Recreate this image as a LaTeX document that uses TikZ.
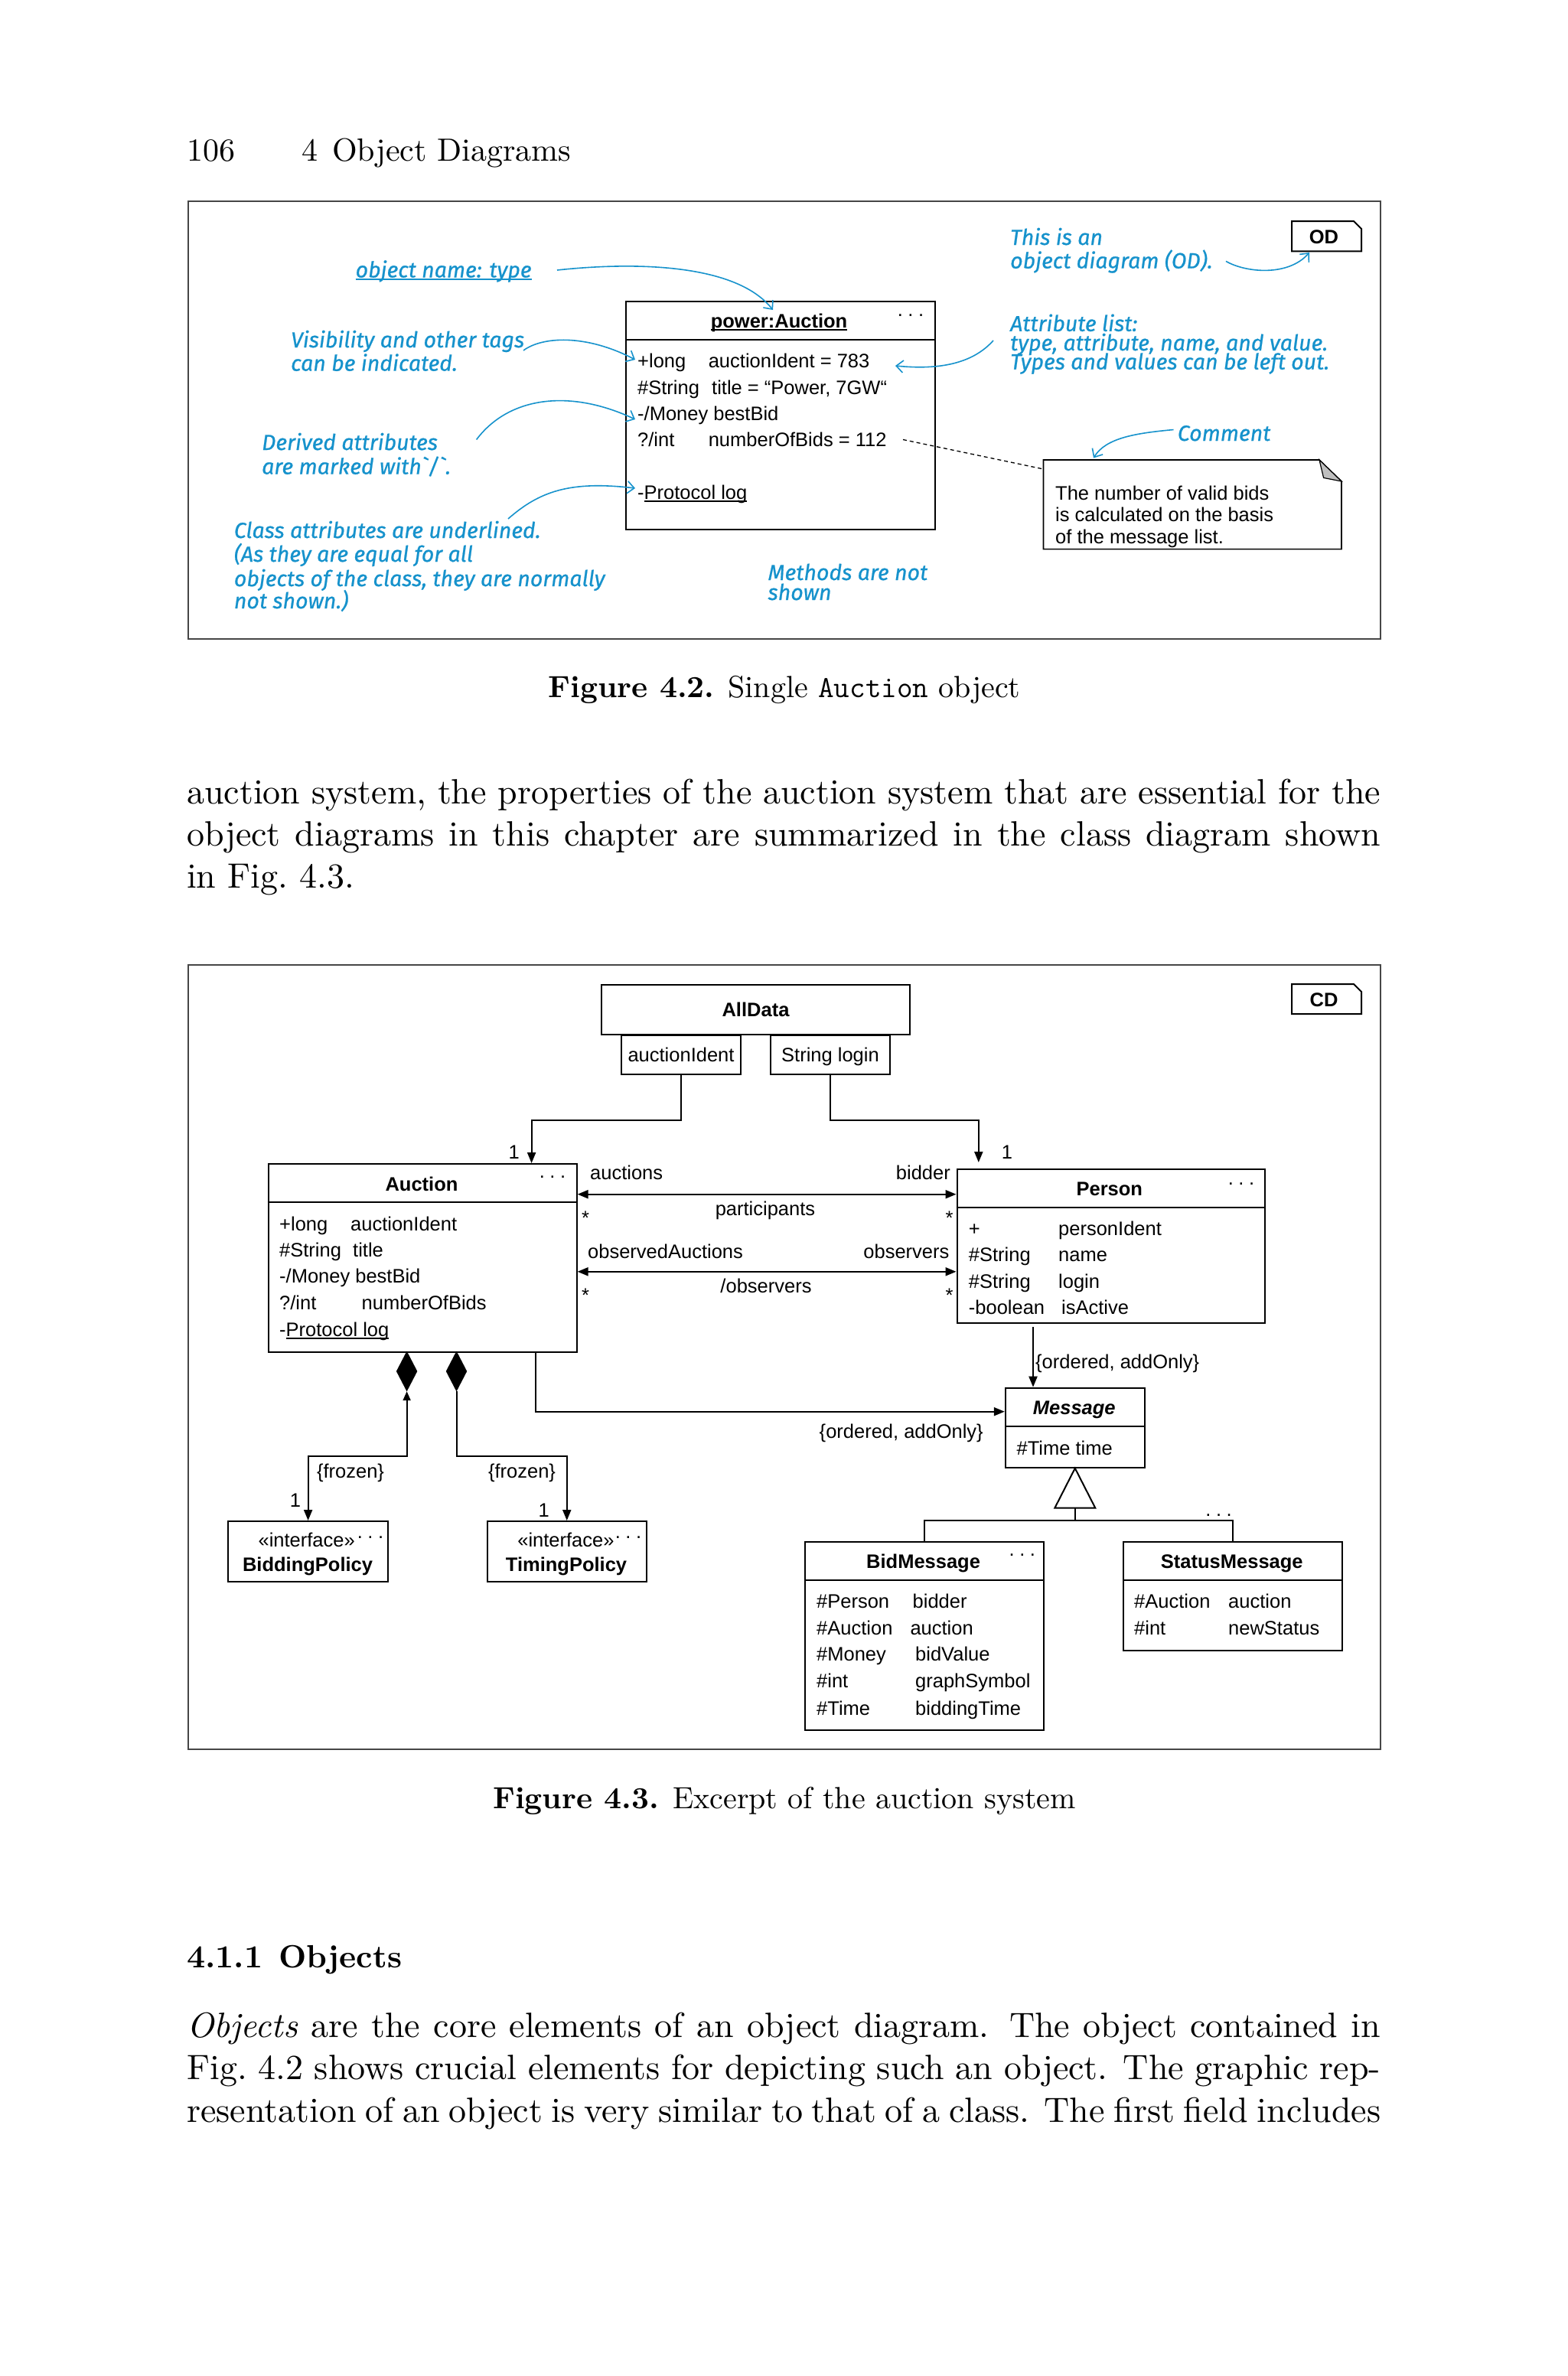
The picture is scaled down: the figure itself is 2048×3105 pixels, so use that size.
\documentclass[tikz,border=0pt]{standalone}
\usepackage{fontspec}
\setmainfont{lmroman10-regular.otf}[BoldFont=lmroman10-bold.otf, ItalicFont=lmroman10-italic.otf, BoldItalicFont=lmroman10-bolditalic.otf]
\newfontfamily\umlfont{Liberation Sans}
\newfontfamily\annfont{Fira Sans}[FakeBold=0.7]
\usetikzlibrary{arrows.meta,shapes.geometric,calc}
\definecolor{annblue}{RGB}{22,146,204}
\definecolor{framegray}{RGB}{70,70,70}
\newsavebox\ulbox
\newcommand\ulx[1]{\sbox\ulbox{#1}\rlap{\rule[-3.5pt]{\wd\ulbox}{1.6pt}}\usebox\ulbox}
\newcommand\tdots{.\hspace{6.5pt}.\hspace{6.5pt}.}
\tikzset{
  u/.style={font=\umlfont\fontsize{25.5}{28}\selectfont, inner sep=0pt, text height=18.4pt, text depth=0pt},
  uw/.style={u, anchor=west},
  ue/.style={u, anchor=east},
  ub/.style={u, font=\umlfont\bfseries\fontsize{25.5}{28}\selectfont},
  um/.style={font=\umlfont\fontsize{25.5}{28.2}\selectfont, inner sep=0pt, align=left, anchor=north west},
  udots/.style={u, anchor=base},
  umlbox/.style={draw, line width=2pt, inner sep=0pt, anchor=north west},
  ln/.style={line width=2pt},
  frm/.style={draw=framegray, line width=2pt},
  arr/.style={line width=2pt, -{Triangle[length=14pt,width=11pt]}},
  dbl/.style={line width=2pt, {Triangle[length=14pt,width=11pt]}-{Triangle[length=14pt,width=11pt]}},
  ann/.style={font=\annfont\itshape\fontsize{28.5}{32}\selectfont, text=annblue, inner sep=0pt, anchor=west, text height=20pt, text depth=0pt},
  annarr/.style={draw=annblue, line width=1.6pt, -{Straight Barb[length=9pt,width=16pt]}},
  hdrtext/.style={font=\fontsize{42}{52}\selectfont, anchor=base west, inner sep=0pt},
  bodytext/.style={font=\fontsize{46}{55}\selectfont, anchor=base west, inner sep=0pt},
  figcap/.style={font=\fontsize{40}{50}\selectfont, anchor=base, inner sep=0pt},
  sectext/.style={font=\bfseries\fontsize{42}{52}\selectfont, anchor=base west, inner sep=0pt},
}
\begin{document}
\begin{tikzpicture}[x=1pt,y=-1pt]
\fill[white] (0,0) rectangle (2048,3105);
\useasboundingbox (0,0) rectangle (2048,3105);

% ---------- header ----------
\node[hdrtext] (pgno) at (244,210) {106};
\node[hdrtext] (chap) at (394,210) {4\hspace{0.45em}Object Diagrams};

% ---------- Figure 4.2 ----------
\draw[frm] (246,263) rectangle (1804,835);
\draw[ln] (1688,289) -- (1769,289) -- (1779,299) -- (1779,328.4) -- (1688,328.4) -- cycle;
\node[ub] (odt) at (1730,309) {OD};

\node[umlbox, minimum width=404, minimum height=298.5] (power) at (817,392.5) {};
\draw[ln] (power.west |- 0,444) -- (power.east |- 0,444);
\node[ub] (powt) at (1018,419) {\ulx{power:Auction}};
\node[udots] (powd) at (1190,413) {\tdots};
\node[uw] (pa1) at (833,471.6) {+long};
\node[uw] (pa1v) at (925.6,471.6) {auctionIdent = 783};
\node[uw] (pa2) at (833,506) {\#String};
\node[uw] (pa2v) at (930,506) {title = “Power, 7GW“};
\node[uw] (pa3) at (833,540) {-/Money bestBid};
\node[uw] (pa4) at (833,574.5) {?/int};
\node[uw] (pa4v) at (925.6,574.5) {numberOfBids = 112};
\node[uw] (pa5) at (833,643) {-\ulx{Protocol log}};

% note
\draw[line width=1.6pt] (1363.5,601) -- (1724,601) -- (1753,629) -- (1753,717.6) -- (1363.5,717.6) -- cycle;
\filldraw[fill=black!25, line width=1.2pt] (1724,601) -- (1753,629) -- (1729.6,624.4) -- cycle;
\node[um] (notet) at (1379,635) {The number of valid bids\\is calculated on the basis\\of the message list.};
\coordinate (nbEnd) at (1180,574.5);
\coordinate (noteIn) at (1363.5,613);
\draw[line width=1.3pt, dash pattern=on 5pt off 4pt] (nbEnd) -- (noteIn);

% annotations
\node[ann] (an1) at (464.5,352.5) {\ulx{object name: type}};
\node[ann] (an2) at (380,444) {Visibility and other tags};
\node[ann] (an2b) at (380,474.6) {can be indicated.};
\node[ann] (an3) at (342,578) {Derived attributes};
\node[ann] (an3b) at (342,609.6) {are marked with\textasciigrave/\textasciigrave.};
\node[ann] (an4) at (305.7,693) {Class attributes are underlined.};
\node[ann] (an4b) at (305.7,724) {(As they are equal for all};
\node[ann] (an4c) at (305.7,756) {objects of the class, they are normally};
\node[ann] (an4d) at (305.7,785) {not shown.)};
\node[ann] (an5) at (1003.4,748) {Methods are not};
\node[ann] (an5b) at (1003.4,774) {shown};
\node[ann] (an6) at (1320,310) {This is an};
\node[ann] (an6b) at (1320,340.6) {object diagram (OD).};
\node[ann] (an7) at (1320,422.8) {Attribute list:};
\node[ann] (an7b) at (1320,448) {type, attribute, name, and value.};
\node[ann] (an7c) at (1320,472.7) {Types and values can be left out.};
\node[ann] (an8) at (1538.7,566) {Comment};

\coordinate (s1) at (728,353);   \coordinate (e1) at (1010,405);
\coordinate (s2) at (684,458);   \coordinate (e2) at (830,470);
\coordinate (s3) at (622.6,574.5); \coordinate (e3) at (830,548);
\coordinate (s4) at (664,678);   \coordinate (e4) at (830,638);
\coordinate (s6) at (1602,341.4); \coordinate (e6) at (1711,330);
\coordinate (s7) at (1298,445);  \coordinate (e7) at (1170,478);
\coordinate (s8) at (1533.5,561.5); \coordinate (e8) at (1429,598.5);
\draw[annarr] (s1) .. controls (820,343) and (960,342) .. (e1);
\draw[annarr] (s2) .. controls (708,440) and (765,436) .. (e2);
\draw[annarr] (s3) .. controls (665,518) and (745,508) .. (e3);
\draw[annarr] (s4) .. controls (705,642) and (745,628) .. (e4);
\draw[annarr] (s6) .. controls (1627,356) and (1683,362) .. (e6);
\draw[annarr] (s7) .. controls (1272,474) and (1230,484) .. (e7);
\draw[annarr] (s8) .. controls (1485,566) and (1445,572) .. (e8);

\node[figcap] (cap1) at (1025,911) {\textbf{Figure 4.2.} Single \texttt{Auction} object};

% ---------- body ----------
\node[bodytext] (b1) at (244,1050) {\makebox[1560pt][s]{auction system, the properties of the auction system that are essential for the}};
\node[bodytext] (b2) at (244,1105) {\makebox[1560pt][s]{object diagrams in this chapter are summarized in the class diagram shown}};
\node[bodytext] (b3) at (244,1160) {in Fig.\ 4.3.};

% ---------- Figure 4.3 ----------
\draw[frm] (246,1261) rectangle (1804,2286);
\draw[ln] (1688,1286) -- (1769,1286) -- (1779,1296) -- (1779,1325) -- (1688,1325) -- cycle;
\node[ub] (cdt) at (1730,1306) {CD};

\node[umlbox, ub, minimum width=403, minimum height=65] (alldata) at (785,1286) {AllData};
\node[umlbox, u, minimum width=156, minimum height=51] (qa) at (811,1352) {auctionIdent};
\node[umlbox, u, minimum width=156, minimum height=51] (ql) at (1006,1352) {String login};

% Auction
\node[umlbox, minimum width=403, minimum height=246] (auction) at (349.6,1520) {};
\draw[ln] (auction.west |- 0,1571.4) -- (auction.east |- 0,1571.4);
\node[ub] (auctiont) at (551,1546.8) {Auction};
\node[udots] (auctiond) at (722,1539) {\tdots};
\node[uw] (aa1) at (365,1599) {+long};
\node[uw] (aa1v) at (458,1599) {auctionIdent};
\node[uw] (aa2) at (365,1633) {\#String};
\node[uw] (aa2v) at (461,1633) {title};
\node[uw] (aa3) at (365,1667) {-/Money bestBid};
\node[uw] (aa4) at (365,1702) {?/int};
\node[uw] (aa4v) at (472.5,1702) {numberOfBids};
\node[uw] (aa5) at (365,1737) {-\ulx{Protocol log}};

% Person
\node[umlbox, minimum width=402.5, minimum height=201] (person) at (1249.5,1527) {};
\draw[ln] (person.west |- 0,1578) -- (person.east |- 0,1578);
\node[ub] (persont) at (1449.8,1553) {Person};
\node[udots] (persond) at (1622,1548) {\tdots};
\node[uw] (pe1) at (1265.7,1605.7) {+};
\node[uw] (pe1v) at (1383,1605.7) {personIdent};
\node[uw] (pe2) at (1265.7,1639.6) {\#String};
\node[uw] (pe2v) at (1383,1639.6) {name};
\node[uw] (pe3) at (1265.7,1674) {\#String};
\node[uw] (pe3v) at (1383,1674) {login};
\node[uw] (pe4) at (1265.7,1708) {-boolean};
\node[uw] (pe4v) at (1387,1708) {isActive};

% qualified associations
\coordinate (aTop) at (694.6,1520);
\coordinate (pTop) at (1278.8,1519);
\draw[arr] (qa.south) -- ++(0,59) -| (aTop);
\draw[arr] (ql.south) -- ++(0,59) -| (pTop);
\node[u] (m1) at (671.7,1505.7) {1};
\node[u] (m2) at (1316,1505.7) {1};

% associations Auction -- Person
\draw[dbl] (auction.east |- 0,1560.7) -- (person.west |- 0,1560.7);
\draw[dbl] (auction.east |- 0,1661.8) -- (person.west |- 0,1661.8);
\node[uw] (l1) at (771,1532) {auctions};
\node[ue] (l2) at (1242,1532) {bidder};
\node[u] (l3) at (1000,1579) {participants};
\node[u] (s1a) at (765,1591) {*};
\node[u] (s1b) at (1240.6,1591) {*};
\node[uw] (l4) at (768,1635.7) {observedAuctions};
\node[ue] (l5) at (1240.6,1635.7) {observers};
\node[u] (l6) at (1001,1680) {/observers};
\node[u] (s2a) at (765,1692) {*};
\node[u] (s2b) at (1240.6,1692) {*};

% compositions
\node[diamond, draw, fill, minimum width=27, minimum height=52, inner sep=0pt] (d1) at (531.6,1792) {};
\node[diamond, draw, fill, minimum width=27, minimum height=52, inner sep=0pt] (d2) at (596.5,1792) {};
\node[umlbox, minimum width=208.4, minimum height=78.7] (bp) at (297.4,1987) {};
\node[umlbox, minimum width=208.5, minimum height=78.7] (tp) at (635.5,1987) {};
\draw[line width=2pt, {Triangle[length=12pt,width=10pt]}-{Triangle[length=14pt,width=11pt]}] (d1.south) -- ++(0,84.4) -| (bp.north);
\draw[arr] (d2.south) -- ++(0,84.4) -| (tp.north);
\node[u] (fz1) at (458,1922) {\{frozen\}};
\node[u] (fz2) at (682,1922) {\{frozen\}};
\node[u] (m3) at (386,1960) {1};
\node[u] (m4) at (710.7,1973) {1};
\node[u] (bps) at (400.7,2012) {«interface»};
\node[udots] (bpd) at (484,2010) {\tdots};
\node[ub] (bpt) at (402,2044) {BiddingPolicy};
\node[u] (tps) at (739.4,2012) {«interface»};
\node[udots] (tpd) at (821,2010) {\tdots};
\node[ub] (tpt) at (740,2044) {TimingPolicy};

% Message
\node[umlbox, minimum width=182, minimum height=104] (msg) at (1312.8,1812.7) {};
\draw[ln] (msg.west |- 0,1864.4) -- (msg.east |- 0,1864.4);
\node[u, font=\umlfont\bfseries\itshape\fontsize{25.5}{28}\selectfont] (msgt) at (1403.8,1839) {Message};
\node[uw] (msga) at (1328.4,1892) {\#Time time};
\draw[arr] (auction.south -| 700.4,0) |- (msg.west |- 0,1844.7);
\draw[arr] ($(person.south -| 1350,0)+(0,4)$) -- (msg.north -| 1350,0);
\node[ue] (o1) at (1285,1870) {\{ordered, addOnly\}};
\node[uw] (o2) at (1353,1779.6) {\{ordered, addOnly\}};

% subclasses
\node[umlbox, minimum width=311.5, minimum height=246.4] (bid) at (1051,2014) {};
\draw[ln] (bid.west |- 0,2065) -- (bid.east |- 0,2065);
\node[ub] (bidt) at (1206.6,2040) {BidMessage};
\node[udots] (bidd) at (1335.8,2033) {\tdots};
\node[uw] (ba1) at (1067,2092.7) {\#Person};
\node[uw] (ba1v) at (1192.5,2092.7) {bidder};
\node[uw] (ba2) at (1067,2127) {\#Auction};
\node[uw] (ba2v) at (1189.3,2127) {auction};
\node[uw] (ba3) at (1067,2161) {\#Money};
\node[uw] (ba3v) at (1196,2161) {bidValue};
\node[uw] (ba4) at (1067,2196) {\#int};
\node[uw] (ba4v) at (1196,2196) {graphSymbol};
\node[uw] (ba5) at (1067,2231.8) {\#Time};
\node[uw] (ba5v) at (1196,2231.8) {biddingTime};

\node[umlbox, minimum width=286, minimum height=142.4] (stat) at (1467,2014) {};
\draw[ln] (stat.west |- 0,2065) -- (stat.east |- 0,2065);
\node[ub] (statt) at (1609.8,2040) {StatusMessage};
\node[uw] (sa1) at (1482,2092.7) {\#Auction};
\node[uw] (sa1v) at (1605,2092.7) {auction};
\node[uw] (sa2) at (1482,2127) {\#int};
\node[uw] (sa2v) at (1605,2127) {newStatus};

% generalization
\draw[ln, fill=white] (msg.south) -- ++(26.5,52) -- ++(-53,0) -- cycle;
\coordinate (gj) at (msg.south |- 0,1987.3);
\draw[ln] ($(msg.south)+(0,52)$) -- (gj);
\draw[ln] (bid.north) |- (gj) -| (stat.north);
\node[udots] (gd) at (1592.6,1981) {\tdots};

\node[figcap] (cap2) at (1025,2363) {\textbf{Figure 4.3.} Excerpt of the auction system};

% ---------- section ----------
\node[sectext] (sect) at (244,2571) {4.1.1\hspace{0.5em}Objects};
\node[bodytext] (q1) at (244,2662) {\makebox[1560pt][s]{\textit{Objects} are the core elements of an object diagram. The object contained in}};
\node[bodytext] (q2) at (244,2717) {\makebox[1560pt][s]{Fig.\ 4.2 shows crucial elements for depicting such an object. The graphic rep-}};
\node[bodytext] (q3) at (244,2773) {\makebox[1560pt][s]{resentation of an object is very similar to that of a class. The first field includes}};
\end{tikzpicture}
\end{document}
